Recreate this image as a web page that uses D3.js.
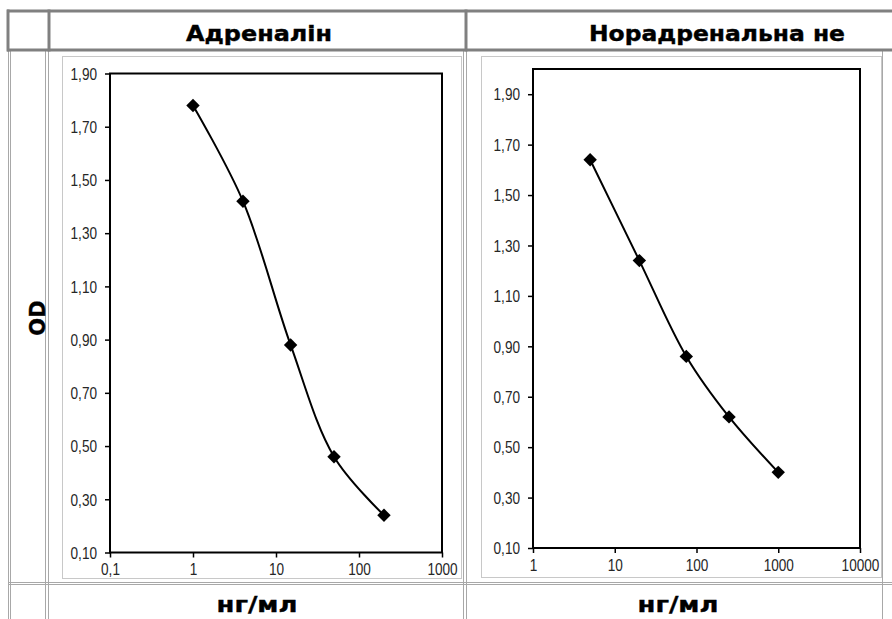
<!DOCTYPE html>
<html><head><meta charset="utf-8">
<script src="https://cdn.jsdelivr.net/npm/d3@7"></script>
<style>html,body{margin:0;padding:0;background:#fff;overflow:hidden}</style>
</head><body>
<svg id="c" width="892" height="619"></svg>
<script>
// ---- data ----
const headerLabels = ["Адреналін", "Норадренальна не"];
const yAxisTitle = "OD";
const xAxisTitle = "нг/мл";
const adrX = [1, 4, 15, 50, 200];
const adrY = [1.78, 1.42, 0.88, 0.46, 0.24];
const noradX = [5, 20, 75, 250, 1000];
const noradY = [1.64, 1.24, 0.86, 0.62, 0.40];
const yTicks = [0.1, 0.3, 0.5, 0.7, 0.9, 1.1, 1.3, 1.5, 1.7, 1.9];
const adrXTicks = [0.1, 1, 10, 100, 1000];
const noradXTicks = [1, 10, 100, 1000, 10000];

const svg = d3.select("#c");
const thick = "#808080", thin = "#a8a8a8", imgB = "#c8c8c8";
const boldFont = "Verdana, DejaVu Sans, sans-serif";

// ---- table grid ----
function line(x1,y1,x2,y2,c,w){svg.append("line").attr("x1",x1).attr("y1",y1).attr("x2",x2).attr("y2",y2).attr("stroke",c).attr("stroke-width",w);}
[8.5, 10.5, 45.5, 48.5, 463.5, 466.5, 882.5].forEach(x=>line(x,51,x,619,thin,1));
[582.5, 584.5].forEach(y=>line(8,y,892,y,thin,1));
line(7,11,892,11,thick,3);
line(7,50,892,50,thick,3);
[8,49,466].forEach(x=>line(x,9.5,x,51.5,thick,3));

// image borders
svg.append("rect").attr("x",62.5).attr("y",56.5).attr("width",399).attr("height",522).attr("fill","none").attr("stroke",imgB);
svg.append("rect").attr("x",481.5).attr("y",56.5).attr("width",400).attr("height",521).attr("fill","none").attr("stroke",imgB);

function boldText(t, x, y, size, w){
  const s = svg.append("text").attr("x",x).attr("y",y).attr("text-anchor","middle")
    .attr("font-family",boldFont).attr("font-weight","bold").attr("font-size",size)
    .attr("stroke","#000").attr("stroke-width",0.4).text(t);
  if (w) s.attr("textLength",w).attr("lengthAdjust","spacingAndGlyphs");
  return s;
}
boldText(headerLabels[0], 259, 41, 21, 146);
boldText(headerLabels[1], 717, 41, 21, 256);
boldText(xAxisTitle, 257, 612, 22, 81);
boldText(xAxisTitle, 678, 612, 22, 81);
boldText(yAxisTitle, 0, 0, 21).attr("transform","translate(45,318) rotate(-90)");

// ---- charts ----
const fmtY = d => d3.format(".2f")(d).replace(".", ",");
const fmtX = d => String(d).replace(".", ",");
const SX = 0.85;

function chart(xs, ys, xDom, xRange, yDom, yRange, xTicks){
  const x = d3.scaleLog().domain(xDom).range(xRange);
  const y = d3.scaleLinear().domain(yDom).range(yRange);
  const g = svg.append("g");
  const ya = g.append("g").attr("transform",`translate(${xRange[0]},0)`)
    .call(d3.axisLeft(y).tickValues(yTicks).tickFormat(fmtY).tickSize(5).tickSizeOuter(0));
  const xa = g.append("g").attr("transform",`translate(0,${yRange[0]})`)
    .call(d3.axisBottom(x).tickValues(xTicks).tickFormat(fmtX).tickSize(5).tickSizeOuter(0));
  [ya,xa].forEach(a=>{
    a.select(".domain").remove();
    a.selectAll("line").attr("stroke","#000").attr("stroke-width",1.5);
    a.selectAll("text").attr("font-family","Liberation Sans, Arial, sans-serif").attr("font-size",16).attr("fill","#262626");
  });
  ya.selectAll("text").attr("x",-13/SX).attr("dy","0.36em").attr("transform",`scale(${SX},1)`);
  xa.selectAll("text").attr("y",23).attr("dy",0).attr("transform",`scale(${SX},1)`);
  g.append("rect").attr("x",xRange[0]).attr("y",yRange[1]).attr("width",xRange[1]-xRange[0]).attr("height",yRange[0]-yRange[1])
    .attr("fill","none").attr("stroke","#000").attr("stroke-width",2);
  const pts = xs.map((v,i)=>[x(v),y(ys[i])]);
  g.append("path").attr("d",d3.line().curve(d3.curveCatmullRom.alpha(0.5))(pts))
    .attr("fill","none").attr("stroke","#000").attr("stroke-width",2);
  const sym = d3.symbol().type(d3.symbolSquare).size(90);
  g.selectAll("path.m").data(pts).enter().append("path").attr("class","m")
    .attr("d",sym).attr("transform",d=>`translate(${d[0]},${d[1]}) rotate(45)`).attr("fill","#000");
}
chart(adrX, adrY, [0.1,1000], [110,442], [0.1,1.9], [552.5,73.5], adrXTicks);
chart(noradX, noradY, [1,10000], [533,860], [0.1,2.0], [548,69], noradXTicks);
</script>
</body></html>
